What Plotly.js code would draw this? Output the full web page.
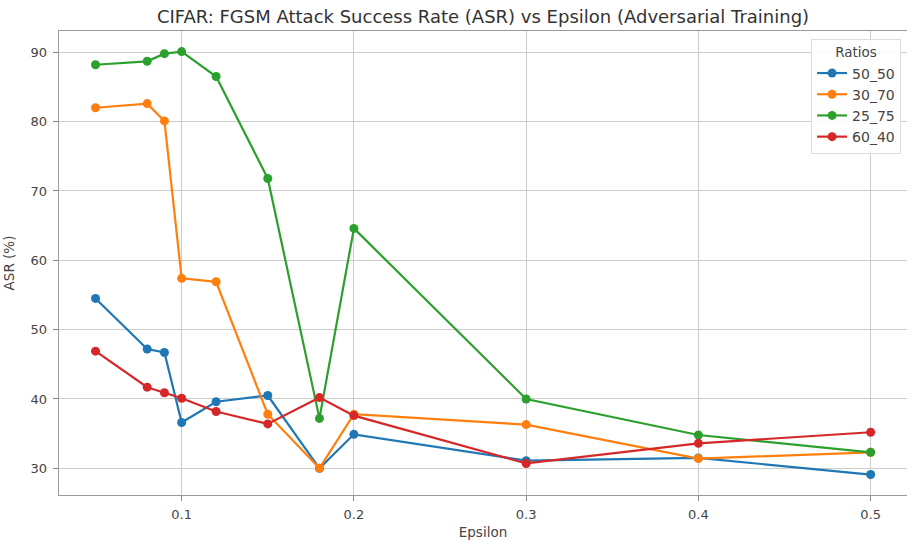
<!DOCTYPE html>
<html>
<head>
<meta charset="utf-8">
<script src="https://cdn.plot.ly/plotly-3.0.1.min.js"></script>
<style>
  html, body { margin: 0; padding: 0; background: #fff; }
  #chart { width: 907px; height: 541px; }
</style>
</head>
<body>
<div id="chart"></div>
<script>
// FGSM attack success rate on CIFAR for each adversarial-training ratio
const epsilon = [0.05, 0.08, 0.09, 0.1, 0.12, 0.15, 0.18, 0.2, 0.3, 0.4, 0.5];

const ratioNames = ["50_50", "30_70", "25_75", "60_40"];
const asr_50_50 = [54.5, 47.2, 46.7, 36.6, 39.6, 40.5, 30.0, 34.9, 31.1, 31.5, 29.1];
const asr_30_70 = [82.0, 82.6, 80.1, 57.4, 56.9, 37.8, 30.0, 37.8, 36.3, 31.4, 32.3];
const asr_25_75 = [88.2, 88.7, 89.8, 90.1, 86.5, 71.8, 37.2, 64.6, 40.0, 34.8, 32.3];
const asr_60_40 = [46.9, 41.7, 40.9, 40.1, 38.2, 36.4, 40.2, 37.6, 30.7, 33.6, 35.2];

const seriesValues = [asr_50_50, asr_30_70, asr_25_75, asr_60_40];
const colors = ["#1f77b4", "#ff7f0e", "#2ca02c", "#d62728"];

const xTicks = [0.1, 0.2, 0.3, 0.4, 0.5];
const yTicks = [30, 40, 50, 60, 70, 80, 90];

const font = "DejaVu Sans, sans-serif";

const traces = ratioNames.map((name, i) => ({
  type: "scatter",
  mode: "lines+markers",
  name: name,
  x: epsilon,
  y: seriesValues[i],
  line: { color: colors[i], width: 2.2 },
  marker: { color: colors[i], size: 9 }
}));

const axisCommon = {
  showgrid: true,
  gridcolor: "#cccccc",
  gridwidth: 1,
  zeroline: false,
  showline: true,
  linecolor: "#999999",
  linewidth: 1.3,
  ticks: "outside",
  ticklen: 5,
  tickwidth: 1,
  tickcolor: "#888888",
  tickfont: { family: font, size: 13, color: "#444444" }
};

const layout = {
  width: 907,
  height: 541,
  margin: { l: 59, r: 0, t: 31, b: 46 },
  paper_bgcolor: "#ffffff",
  plot_bgcolor: "#ffffff",
  font: { family: font, color: "#333333" },
  title: {
    text: "CIFAR: FGSM Attack Success Rate (ASR) vs Epsilon (Adversarial Training)",
    font: { family: font, size: 18, color: "#333333" },
    x: 0.5, xref: "paper", xanchor: "center",
    y: 0.97, yref: "container", yanchor: "middle"
  },
  xaxis: Object.assign({}, axisCommon, {
    range: [0.0288, 0.5211],
    tickvals: xTicks,
    ticktext: xTicks.map(v => v.toFixed(1)),
    mirror: true,
    ticklabelstandoff: 2,
    title: { text: "Epsilon", font: { family: font, size: 13.5, color: "#444444" }, standoff: 6 }
  }),
  yaxis: Object.assign({}, axisCommon, {
    range: [26.15, 93.07],
    tickvals: yTicks,
    ticktext: yTicks.map(String),
    ticklabelstandoff: 3,
    title: { text: "ASR (%)", font: { family: font, size: 13.5, color: "#444444" }, standoff: 12 }
  }),
  legend: {
    x: 0.993, xanchor: "right",
    y: 0.983, yanchor: "top",
    bgcolor: "rgba(255,255,255,0.85)",
    bordercolor: "#dddddd",
    borderwidth: 1,
    font: { family: font, size: 14, color: "#444444" },
    title: { text: "Ratios", side: "top center", font: { family: font, size: 13.5, color: "#444444" } },
    tracegroupgap: 0,
    itemwidth: 30
  },
  showlegend: true
};

Plotly.newPlot("chart", traces, layout, { displayModeBar: false, staticPlot: true });
</script>
</body>
</html>
